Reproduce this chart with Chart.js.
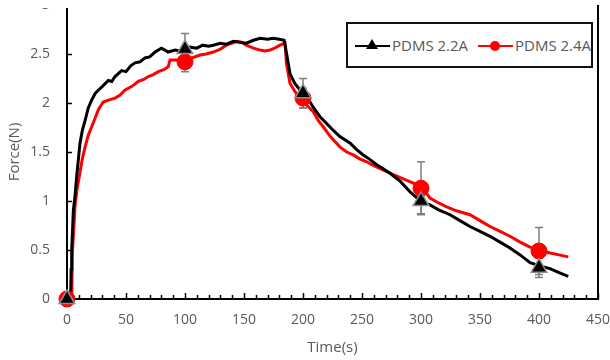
<!DOCTYPE html>
<html>
<head>
<meta charset="utf-8">
<script src="https://cdn.jsdelivr.net/npm/chart.js@4"></script>
<style>
  body { margin: 0; background: #fff; }
  #wrap { position: relative; width: 610px; height: 360px; overflow: hidden; font-family: "Open Sans", sans-serif; }
  #topMask { position: absolute; left: 0; top: 0; width: 595px; height: 8px; background: #fff; }
  #legend { position: absolute; left: 346px; top: 22px; width: 247px; height: 46px; box-sizing: border-box; border: 2px solid #111; background: #fff; }
  #legend .ln { position: absolute; top: 21px; height: 2px; width: 35px; }
  #legend .txt { position: absolute; top: 10px; font-size: 15px; color: #595959; line-height: 22px; white-space: nowrap; }
  #legend .tri { position: absolute; width: 0; height: 0; border-left: 6px solid transparent; border-right: 6px solid transparent; border-bottom: 10px solid #000; }
  #legend .dot { position: absolute; width: 10px; height: 10px; border-radius: 50%; background: #ff0000; }
</style>
</head>
<body>
<div id="wrap">
  <canvas id="forceChart" width="610" height="360"></canvas>
  <div id="topMask"></div>
  <div id="legend">
    <div class="ln" style="left:7px;background:#000"></div>
    <div class="tri" style="left:18px;top:15px"></div>
    <div class="txt" style="left:44px">PDMS 2.2A</div>
    <div class="ln" style="left:130px;background:#ff0000"></div>
    <div class="dot" style="left:142px;top:17px"></div>
    <div class="txt" style="left:167px">PDMS 2.4A</div>
  </div>
</div>
<script>
// ============ Data ============
const time22 = [0, 3, 3.5, 4, 5.4, 6.8, 8.2, 11, 13, 15.3, 18, 20.9, 24, 26.5, 30, 35, 38, 40.7, 46.3, 50,
  54, 57.6, 62, 66, 70, 74.6, 80, 83, 85.6, 91.5, 96, 100, 104, 110, 115, 120, 124, 130, 135, 141,
  146, 152, 158, 163.6, 170, 174.6, 180, 184, 185, 186, 189, 193, 197, 200, 204, 208.5, 214.4, 220, 225.7, 231,
  240, 245, 251, 256, 262.5, 268, 274, 282.5, 291, 300.6, 307.6, 315, 324.6, 333, 341.5, 350, 358.5, 367, 375.4, 384,
  392.4, 400, 409.3, 417, 424.8];
const force22 = [0, 0, 0.3, 0.5, 0.91, 1.05, 1.25, 1.59, 1.72, 1.82, 1.95, 2.03, 2.1, 2.13, 2.17, 2.23, 2.22, 2.27, 2.33, 2.32,
  2.38, 2.41, 2.42, 2.46, 2.47, 2.52, 2.56, 2.54, 2.52, 2.54, 2.53, 2.55, 2.57, 2.56, 2.59, 2.58, 2.59, 2.61, 2.6, 2.63,
  2.62, 2.61, 2.64, 2.66, 2.65, 2.66, 2.65, 2.64, 2.58, 2.51, 2.3, 2.2, 2.14, 2.11, 2.05, 1.96, 1.86, 1.79, 1.72, 1.66,
  1.59, 1.53, 1.47, 1.43, 1.37, 1.33, 1.28, 1.2, 1.09, 0.99, 0.96, 0.91, 0.86, 0.8, 0.74, 0.69, 0.64, 0.58, 0.52, 0.45,
  0.37, 0.34, 0.31, 0.27, 0.23];

const time24 = [0, 4, 4.5, 5.4, 6.8, 8.5, 11, 13, 15.3, 18, 21, 24, 26.5, 28, 30.8, 35, 40.7, 45, 49, 55,
  60.4, 65, 69, 73, 77.4, 82, 85.8, 87.3, 94.3, 97, 101.4, 106, 112.7, 118, 124, 130, 135, 140, 143.8, 148,
  152, 158, 163.6, 168, 172, 176, 180.5, 184.7, 186, 189, 193, 197.5, 203, 208.7, 213, 217, 223, 231.4, 237, 242.6,
  248, 254, 260, 265.3, 271, 276.5, 282, 288, 294, 300.6, 304, 307.6, 315, 321.8, 330, 341.5, 350, 358.5, 367, 375.4,
  384, 392.4, 400, 409.3, 417, 424.8];
const force24 = [0, 0, 0.47, 0.65, 0.95, 1.12, 1.29, 1.43, 1.55, 1.67, 1.76, 1.85, 1.93, 1.96, 2.01, 2.03, 2.05, 2.08, 2.13, 2.17,
  2.22, 2.24, 2.27, 2.29, 2.32, 2.34, 2.37, 2.44, 2.44, 2.42, 2.41, 2.46, 2.49, 2.5, 2.52, 2.55, 2.59, 2.61, 2.63, 2.62,
  2.59, 2.56, 2.54, 2.53, 2.54, 2.56, 2.59, 2.61, 2.4, 2.2, 2.12, 2.05, 1.98, 1.91, 1.82, 1.76, 1.66, 1.55, 1.5, 1.47,
  1.43, 1.4, 1.36, 1.33, 1.3, 1.27, 1.24, 1.21, 1.18, 1.14, 1.09, 1.03, 0.98, 0.94, 0.9, 0.86, 0.8, 0.74, 0.69, 0.64,
  0.58, 0.53, 0.5, 0.47, 0.45, 0.43];

const markTime = [0, 100, 200, 300, 400];
const mark22 = [0, 2.55, 2.1, 1.0, 0.32];
const err22 = [0, 0.16, 0.15, 0.13, 0.1];
const mark24 = [0, 2.42, 2.05, 1.13, 0.49];
const err24 = [0, 0.1, 0.1, 0.27, 0.24];

const xTicks = { min: 0, max: 450, step: 50 };
const yTicks = { min: 0, max: 3, step: 0.5 };

const TEXT = "#595959";
const FONT = "'Open Sans', sans-serif";

const toPoints = (xs, ys) => xs.map((x, i) => ({ x: x, y: ys[i] }));

// ============ Plugins ============

function drawErrors(chart, xs, ys, errs) {
  const { ctx, scales } = chart;
  ctx.save();
  ctx.strokeStyle = "#7f7f7f";
  ctx.lineWidth = 1.5;
  xs.forEach((x, i) => {
    if (!errs[i]) return;
    const px = scales.x.getPixelForValue(x);
    const top = scales.y.getPixelForValue(ys[i] + errs[i]);
    const bot = scales.y.getPixelForValue(ys[i] - errs[i]);
    ctx.beginPath();
    ctx.moveTo(px, top); ctx.lineTo(px, bot);
    ctx.moveTo(px - 4, top); ctx.lineTo(px + 4, top);
    ctx.moveTo(px - 4, bot); ctx.lineTo(px + 4, bot);
    ctx.stroke();
  });
  ctx.restore();
}

const framePlugin = {
  id: "frame",
  beforeDatasetsDraw(chart) {
    const { ctx, chartArea, scales } = chart;
    ctx.save();
    ctx.strokeStyle = "#000";
    ctx.lineWidth = 1.5;
    ctx.beginPath();
    // inward ticks on x, minor every 10
    for (let v = xTicks.min; v <= xTicks.max; v += 10) {
      const px = Math.round(scales.x.getPixelForValue(v)) + 0.5;
      const len = v % xTicks.step === 0 ? 6 : 4;
      ctx.moveTo(px, chartArea.bottom);
      ctx.lineTo(px, chartArea.bottom - len);
    }
    for (let v = yTicks.min; v <= yTicks.max; v += yTicks.step) {
      const py = Math.round(scales.y.getPixelForValue(v)) + 0.5;
      ctx.moveTo(chartArea.left, py);
      ctx.lineTo(chartArea.left + 5, py);
    }
    ctx.stroke();
    ctx.lineWidth = 2;
    ctx.beginPath();
    ctx.moveTo(chartArea.right, chartArea.top);
    ctx.lineTo(chartArea.right, chartArea.bottom + 1);
    ctx.stroke();
    ctx.restore();
  },
  afterDatasetDraw(chart, args) {
    // error bars go above the lines, below the markers
    if (args.index !== 2) return;
    drawErrors(chart, markTime, mark22, err22);
    drawErrors(chart, markTime, mark24, err24);
  }
};

// ============ Chart ============

function renderForceChart() {
  const ctx = document.getElementById("forceChart").getContext("2d");
  new Chart(ctx, {
    type: "scatter",
    data: {
      datasets: [
        {
          label: "PDMS 2.2A marks",
          data: toPoints(markTime, mark22),
          pointStyle: "triangle",
          pointRadius: 9,
          backgroundColor: "#000",
          borderColor: "#8c8c8c",
          borderWidth: 1.5,
          clip: false
        },
        {
          label: "PDMS 2.4A marks",
          data: toPoints(markTime, mark24),
          pointStyle: "circle",
          pointRadius: 8,
          backgroundColor: "#ff0000",
          borderColor: "#ff0000",
          borderWidth: 1,
          clip: false
        },
        {
          label: "PDMS 2.2A",
          data: toPoints(time22, force22),
          showLine: true,
          pointRadius: 0,
          borderColor: "#000",
          borderWidth: 3,
          clip: false
        },
        {
          label: "PDMS 2.4A",
          data: toPoints(time24, force24),
          showLine: true,
          pointRadius: 0,
          borderColor: "#ff0000",
          borderWidth: 3,
          clip: false
        }
      ]
    },
    options: {
      responsive: false,
      animation: false,
      layout: { autoPadding: false, padding: { top: 5, right: 12, left: 0, bottom: 0 } },
      plugins: { legend: { display: false }, tooltip: { enabled: false } },
      scales: {
        x: {
          type: "linear",
          min: xTicks.min, max: xTicks.max,
          afterFit: (s) => { s.height = 61; s.paddingLeft = 0; s.paddingRight = 0; },
          grid: { display: false, drawTicks: false },
          border: { display: true, color: "#000", width: 2 },
          ticks: { stepSize: xTicks.step, padding: 13, color: TEXT, font: { family: FONT, size: 14 } },
          title: { display: true, text: "Time(s)", color: TEXT, font: { family: FONT, size: 15 }, padding: { bottom: 3 } }
        },
        y: {
          min: yTicks.min, max: yTicks.max,
          afterFit: (s) => { s.width = 67; s.paddingTop = 0; s.paddingBottom = 0; },
          grid: { display: false, drawTicks: false },
          border: { display: true, color: "#000", width: 2 },
          ticks: {
            stepSize: yTicks.step, padding: 17, color: TEXT, font: { family: FONT, size: 14 },
            callback: (v) => String(+v.toFixed(1))
          },
          title: { display: true, text: "Force(N)", color: TEXT, font: { family: FONT, size: 15 }, padding: { top: 6 } }
        }
      }
    },
    plugins: [framePlugin]
  });
}

window.addEventListener("DOMContentLoaded", renderForceChart);
</script>
</body>
</html>
